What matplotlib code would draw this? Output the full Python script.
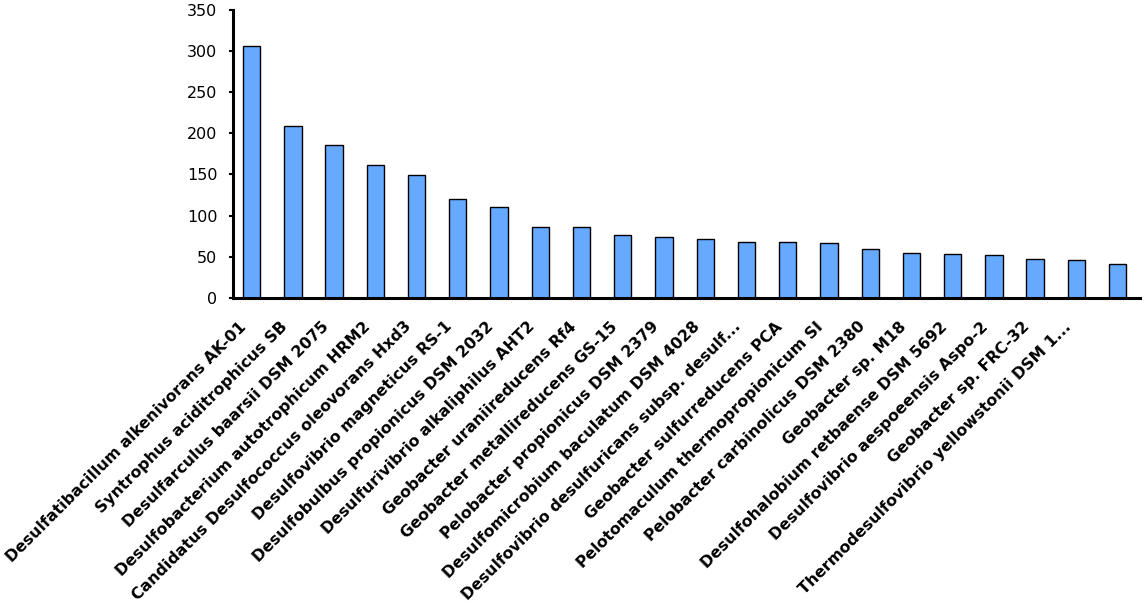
import matplotlib.pyplot as plt

# organisms and their counts (last bar has no label)
organisms = [
    'Desulfatibacillum alkenivorans AK-01',
    'Syntrophus aciditrophicus SB',
    'Desulfarculus baarsii DSM 2075',
    'Desulfobacterium autotrophicum HRM2',
    'Candidatus Desulfococcus oleovorans Hxd3',
    'Desulfovibrio magneticus RS-1',
    'Desulfobulbus propionicus DSM 2032',
    'Desulfurivibrio alkaliphilus AHT2',
    'Geobacter uraniireducens Rf4',
    'Geobacter metallireducens GS-15',
    'Pelobacter propionicus DSM 2379',
    'Desulfomicrobium baculatum DSM 4028',
    'Desulfovibrio desulfuricans subsp. desulf...',
    'Geobacter sulfurreducens PCA',
    'Pelotomaculum thermopropionicum SI',
    'Pelobacter carbinolicus DSM 2380',
    'Geobacter sp. M18',
    'Desulfohalobium retbaense DSM 5692',
    'Desulfovibrio aespoeensis Aspo-2',
    'Geobacter sp. FRC-32',
    'Thermodesulfovibrio yellowstonii DSM 1...',
    '',
]
counts = [306, 209, 186, 162, 149, 120, 110, 86, 86, 76, 74, 71, 68,
          68, 67, 59, 55, 53, 52, 47, 46, 41]
y_ticks = [0, 50, 100, 150, 200, 250, 300, 350]

fig = plt.figure(figsize=(11.46, 6.08), dpi=100)
ax = fig.add_axes([0.203, 0.51, 0.792, 0.474])

x = list(range(len(counts)))
ax.bar(x, counts, width=0.42, color='#66aaff', edgecolor='black', linewidth=1.0)

ax.set_xlim(-0.46, len(counts) - 0.45)
ax.set_ylim(0, 350)
ax.set_yticks(y_ticks)
ax.set_xticks([])

# category labels, rotated, sitting a bit left of each bar like the reference
for i, name in zip(x, organisms):
    ax.annotate(name, xy=(i, 0), xycoords=('data', 'axes fraction'),
                xytext=(-13, -21), textcoords='offset pixels',
                rotation=45, ha='right', va='top', rotation_mode='anchor',
                fontsize=11.3, fontweight='bold', annotation_clip=False)

for side in ['top', 'right']:
    ax.spines[side].set_visible(False)
ax.spines['left'].set_linewidth(2.2)
ax.spines['bottom'].set_linewidth(2.2)
ax.tick_params(axis='y', direction='out', length=3, width=1.5, labelsize=11.5, pad=8)

plt.savefig('out.png', dpi=100)
plt.close()
